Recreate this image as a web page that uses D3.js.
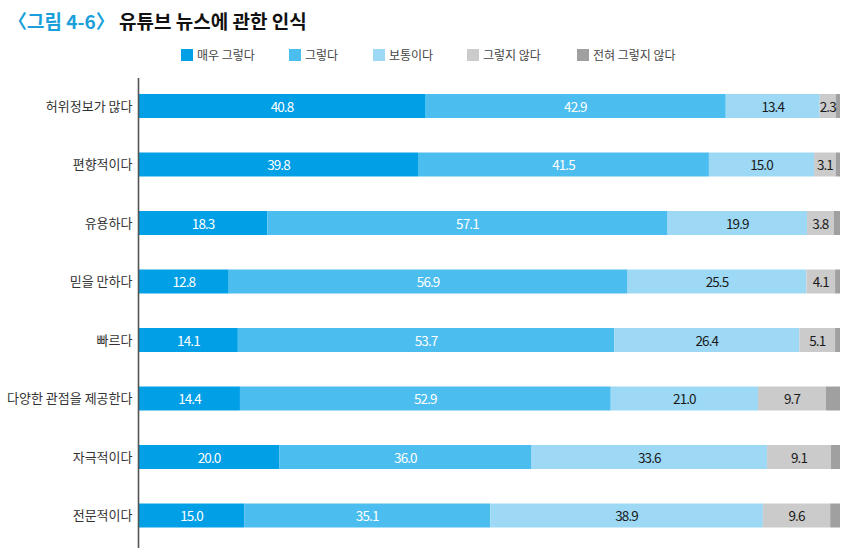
<!DOCTYPE html>
<html><head><meta charset="utf-8">
<script src="https://cdn.jsdelivr.net/npm/d3@7"></script>
<style>body{margin:0;background:#fff;}svg{display:block;}text{font-family:"Noto Sans CJK KR","Noto Sans",sans-serif;}</style>
</head><body><svg id="c" width="860" height="548"></svg>
<script>
const categories = ["허위정보가 많다","편향적이다","유용하다","믿을 만하다","빠르다","다양한 관점을 제공한다","자극적이다","전문적이다"];
const seriesNames = ["매우 그렇다","그렇다","보통이다","그렇지 않다","전혀 그렇지 않다"];
const veryAgree    = [40.8,39.8,18.3,12.8,14.1,14.4,20.0,15.0];
const agree        = [42.9,41.5,57.1,56.9,53.7,52.9,36.0,35.1];
const neutral      = [13.4,15.0,19.9,25.5,26.4,21.0,33.6,38.9];
const disagree     = [2.3,3.1,3.8,4.1,5.1,9.7,9.1,9.6];
const stronglyDis  = [0.6,0.6,0.9,0.7,0.7,2.0,1.3,1.4];
const colors = ["#009FE6","#4CBDEF","#9DD9F5","#CBCBCB","#A0A0A0"];
const labelColors = ["#fff","#fff","#1a1a1a","#1a1a1a",null];

const series = [veryAgree, agree, neutral, disagree, stronglyDis];
const data = categories.map((c,i)=>{const o={cat:c}; seriesNames.forEach((s,j)=>o[s]=series[j][i]); return o;});
const stacked = d3.stack().keys(seriesNames)(data);

const svg = d3.select("#c");
const x = d3.scaleLinear().domain([0,100]).range([139,840]);
const y = d3.scaleBand().domain(categories).range([76.75,544.75]).paddingInner(0.59).paddingOuter(0.295);

// title
const t = svg.append("text").attr("x",8).attr("y",29).attr("font-size",19).attr("font-weight",700);
t.append("tspan").attr("fill","#1A9FDB").text("〈그림 4-6〉 ");
t.append("tspan").attr("fill","#111").text("유튜브 뉴스에 관한 인식");

// legend
const legX = [181,289,373,467,577];
seriesNames.forEach((s,i)=>{
  const g = svg.append("g").attr("transform",`translate(${legX[i]},49)`);
  g.append("rect").attr("width",12).attr("height",12).attr("fill",colors[i]);
  g.append("text").attr("x",16).attr("y",10.5).attr("font-size",12).attr("fill","#444").text(s);
});

// bars
const layer = svg.selectAll("g.layer").data(stacked).join("g").attr("class","layer").attr("fill",(d,i)=>colors[i]);
layer.selectAll("rect").data(d=>d).join("rect")
  .attr("x",d=>x(d[0])).attr("width",d=>x(d[1])-x(d[0]))
  .attr("y",d=>y(d.data.cat)).attr("height",y.bandwidth());

stacked.forEach((ser,i)=>{
  if(!labelColors[i]) return;
  svg.append("g").selectAll("text").data(ser).join("text")
    .attr("x",d=>(x(d[0])+x(d[1]))/2)
    .attr("y",d=>y(d.data.cat)+y.bandwidth()/2+5.5)
    .attr("text-anchor","middle").attr("font-size",13.5).attr("letter-spacing","-0.9")
    .attr("fill",labelColors[i])
    .text(d=>(d[1]-d[0]).toFixed(1));
});

// category axis
const yAxis = d3.axisLeft(y).tickSize(0).tickPadding(6);
const ag = svg.append("g").attr("transform","translate(138.5,0)").call(yAxis);
ag.select(".domain").remove();
ag.selectAll("text").attr("font-size",13).attr("fill","#333").attr("font-family","'Noto Sans CJK KR',sans-serif").attr("dy","0.35em");
svg.append("line").attr("x1",138.5).attr("x2",138.5).attr("y1",78).attr("y2",548).attr("stroke","#555").attr("stroke-width",1.6);
</script></body></html>
